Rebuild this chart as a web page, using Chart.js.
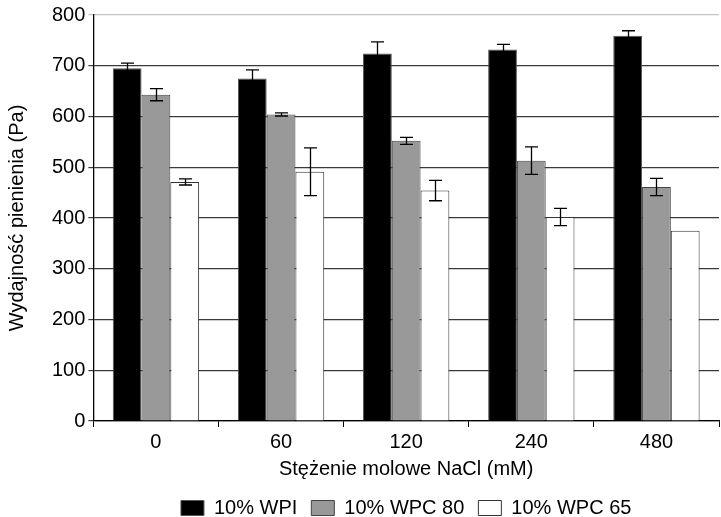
<!DOCTYPE html>
<html>
<head>
<meta charset="utf-8">
<script src="https://cdn.jsdelivr.net/npm/chart.js@4/dist/chart.umd.min.js"></script>
<style>
  html, body { margin: 0; padding: 0; background: #fff; }
  #wrap { width: 721px; height: 517px; }
</style>
</head>
<body>
<div id="wrap"><canvas id="chart"></canvas></div>
<script>
// dane
var categories = ['0', '60', '120', '240', '480'];
var wpi = [695, 675, 724, 732, 759];
var wpiErr = [10, 17, 23, 10, 10];
var wpc80 = [643, 604, 552, 513, 461];
var wpc80Err = [12, 3, 7, 27, 17];
var wpc65 = [471, 491, 454, 402, 375];
var wpc65Err = [6, 47, 20, 17, 0];

var FONT = "'Liberation Sans', Arial, sans-serif";
var FS = 20;

// rysuje słupki błędów (±) nad każdym słupkiem
var errorBars = {
  id: 'errorBars',
  afterDatasetsDraw: function (chart) {
    var ctx = chart.ctx;
    var y = chart.scales.y;
    ctx.save();
    ctx.strokeStyle = '#000';
    ctx.lineWidth = 1.3;
    chart.data.datasets.forEach(function (ds, di) {
      var meta = chart.getDatasetMeta(di);
      if (meta.hidden) return;
      meta.data.forEach(function (bar, i) {
        var e = ds.errors[i];
        if (!e) return;
        var x = Math.round(bar.x) + 0.5;
        var top = y.getPixelForValue(ds.data[i] + e);
        var bot = y.getPixelForValue(ds.data[i] - e);
        ctx.beginPath();
        ctx.moveTo(x, top); ctx.lineTo(x, bot);
        ctx.moveTo(x - 6.5, top); ctx.lineTo(x + 6.5, top);
        ctx.moveTo(x - 6.5, bot); ctx.lineTo(x + 6.5, bot);
        ctx.stroke();
      });
    });
    ctx.restore();
  }
};

// legenda: większe odstępy w poziomie, ale niska wysokość
var legendHeight = {
  id: 'legendHeight',
  beforeLayout: function (chart) {
    var lg = chart.legend;
    if (!lg || lg._patched) return;
    var fit = lg.fit;
    lg.fit = function () {
      fit.call(this);
      this.height = 33;
    };
    lg._patched = true;
  }
};

document.addEventListener('DOMContentLoaded', function () {
  var ctx = document.getElementById('chart').getContext('2d');
  new Chart(ctx, {
    type: 'bar',
    data: {
      labels: categories,
      datasets: [
        { label: '10% WPI', data: wpi, errors: wpiErr, backgroundColor: '#000', borderColor: '#555', borderWidth: 1 },
        { label: '10% WPC 80', data: wpc80, errors: wpc80Err, backgroundColor: '#999', borderColor: '#444', borderWidth: 1 },
        { label: '10% WPC 65', data: wpc65, errors: wpc65Err, backgroundColor: '#fff', borderColor: '#333', borderWidth: 1 }
      ]
    },
    options: {
      responsive: true,
      maintainAspectRatio: false,
      animation: false,
      layout: { padding: { top: 4, right: 2, left: 5, bottom: 0 } },
      datasets: { bar: { categoryPercentage: 0.69, barPercentage: 1 } },
      plugins: {
        legend: {
          position: 'bottom',
          fullSize: false,
          labels: {
            font: { family: FONT, size: FS },
            color: '#000',
            boxWidth: 23,
            boxHeight: 15,
            padding: 14
          }
        },
        tooltip: { enabled: false }
      },
      scales: {
        x: {
          grid: { offset: true, drawOnChartArea: false, tickLength: 6, color: '#000' },
          border: { color: '#000', width: 1.3 },
          ticks: { font: { family: FONT, size: FS }, color: '#000', padding: 3 },
          title: { display: true, text: 'Stężenie molowe NaCl (mM)', font: { family: FONT, size: FS }, color: '#000', padding: { top: 0, bottom: 3 } }
        },
        y: {
          min: 0,
          max: 800,
          ticks: { stepSize: 100, font: { family: FONT, size: FS }, color: '#000', padding: 3 },
          grid: {
            tickLength: 5,
            lineWidth: 1.2,
            color: function (c) { return c.tick && c.tick.value === 800 ? '#c4c4c4' : '#3a3a3a'; }
          },
          border: { color: '#000', width: 1.3 },
          title: { display: true, text: 'Wydajność pienienia (Pa)', font: { family: FONT, size: FS }, color: '#000', padding: { top: 0, bottom: 20 } }
        }
      }
    },
    plugins: [errorBars, legendHeight]
  });
});
</script>
</body>
</html>
